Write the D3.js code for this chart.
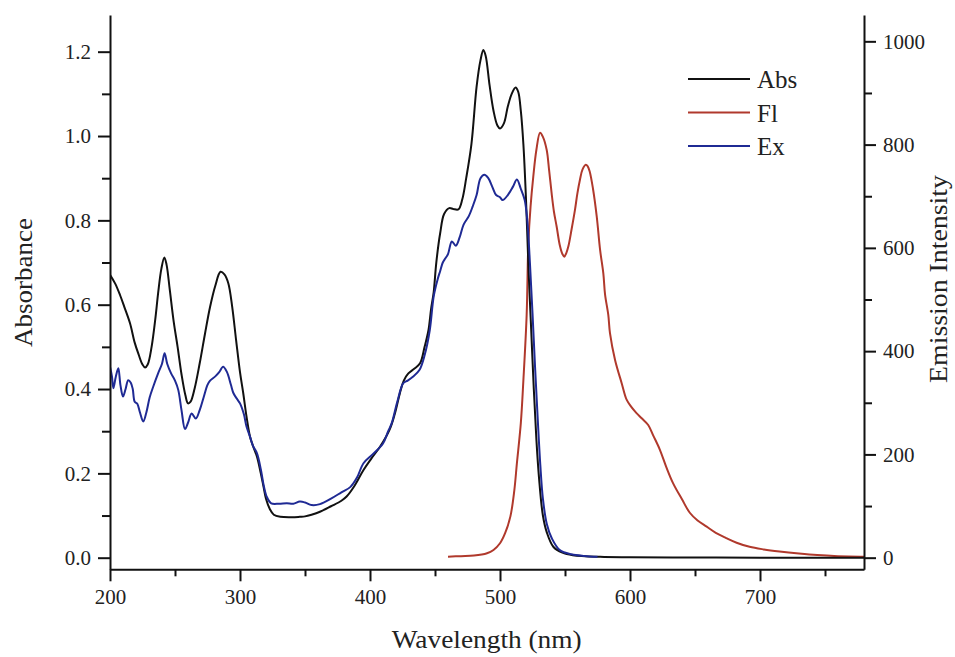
<!DOCTYPE html>
<html>
<head>
<meta charset="utf-8">
<script src="https://cdn.jsdelivr.net/npm/d3@7"></script>
<style>
  html, body { margin: 0; padding: 0; background: #fff; }
  svg { display: block; }
  text { font-family: "Liberation Serif", "Times New Roman", serif; fill: #222; }
</style>
</head>
<body>
<svg id="chart" width="955" height="657"></svg>
<script>
// Absorption spectrum (left axis)
const absWl = [200,204,207.7,211,215.4,219,222,225,227,229,232,235,237,239.5,241.8,243.5,246,249,252,255,258,260,262,265,269,273,277,281,285,288,291,294,297,300,302.5,305,307.7,310,313,316,318,320,323,326,331,340,346,350,355,361.5,370,378,382,388,395,401,407.7,415,419,423,426,429.5,434,438.5,442,445,447,449,451,454,457,461,464,468,471,474,478,482,485,487.2,489,492,495,498,500,503,506,509,512,514,516,518,520,522,524,526,528,530,533,536,541,548,556,577,600,650,700,780];
const absVal = [0.671,0.650,0.623,0.595,0.556,0.51,0.482,0.458,0.451,0.458,0.50,0.57,0.627,0.685,0.712,0.695,0.635,0.56,0.50,0.435,0.385,0.366,0.37,0.40,0.461,0.53,0.595,0.645,0.678,0.672,0.651,0.595,0.516,0.44,0.39,0.335,0.287,0.265,0.240,0.20,0.17,0.14,0.115,0.102,0.097,0.096,0.097,0.098,0.102,0.109,0.122,0.135,0.145,0.17,0.208,0.235,0.263,0.303,0.34,0.39,0.42,0.437,0.448,0.461,0.50,0.54,0.59,0.63,0.70,0.77,0.815,0.829,0.827,0.826,0.85,0.90,0.98,1.117,1.18,1.204,1.19,1.12,1.06,1.025,1.018,1.03,1.07,1.10,1.115,1.105,1.06,0.98,0.85,0.68,0.54,0.40,0.28,0.19,0.10,0.06,0.026,0.012,0.006,0.002,0.001,0.0005,0,0];

// Excitation spectrum (left axis)
const exWl = [200,201.5,202.6,204.5,206.4,208,210,212,214,216,217.5,219,221,223,225.6,228,230.5,233.3,237,240,242,244,247,250,252.5,255,257.7,260,262.8,266,269,272,275,277,281,284,287,290,293,295,298,300,303,305,307.7,310,313,316,318,320.5,324,330,336,341,346,350,355,361.5,370,378,385,390,395,402,410,414,416.7,421,425.6,429,433,438,442,446,449,452,454,456,458,460,463,466,469,472,476,479,482,485,488,491,494,497,500,502,506,510,513,516,519,521,523,525,527,529,531,533,536,540,546,555,565,575];
const exVal = [0.453,0.43,0.402,0.43,0.449,0.41,0.382,0.40,0.421,0.415,0.40,0.37,0.365,0.345,0.323,0.345,0.38,0.406,0.437,0.46,0.485,0.46,0.437,0.42,0.398,0.35,0.305,0.32,0.342,0.33,0.35,0.38,0.41,0.42,0.43,0.44,0.453,0.44,0.41,0.39,0.375,0.366,0.34,0.311,0.287,0.265,0.248,0.21,0.175,0.145,0.129,0.128,0.129,0.128,0.133,0.131,0.125,0.127,0.14,0.155,0.168,0.19,0.224,0.245,0.271,0.30,0.319,0.37,0.414,0.42,0.429,0.445,0.48,0.54,0.62,0.66,0.68,0.70,0.71,0.72,0.75,0.74,0.76,0.79,0.81,0.833,0.86,0.90,0.908,0.90,0.88,0.86,0.855,0.848,0.86,0.88,0.897,0.875,0.848,0.80,0.70,0.58,0.45,0.33,0.22,0.14,0.08,0.045,0.018,0.008,0.004,0.002];

// Fluorescence emission spectrum (right axis)
const flWl = [460,470,480,490,495,500,504,508,511,513,516,518,520.5,521.8,523.5,525.6,528,530.8,533,535.9,537.8,539.7,541.5,543.6,546,548,549.5,551,552.6,555,557.7,559.5,561.5,563.5,566,567.5,569,571.5,574.4,577,579.5,580.8,583.3,584.6,588.5,593.6,597.4,601,605,609,614,618,623,628,633,640,646,652,659,666,674,682,692,703,715,730,744,760,777,780];
const flVal = [2,3,4,8.5,15,28,48,80,130,183,260,344,470,609,680,738,790,823,815,790,750,706,670,641,605,588,583,590,603,635,674,705,732,752,761,758,748,715,661,596,550,510,470,435,383,338,306,292,280,270,257,236,209,175,145,113,87,72,60,48,38,29,21,16,12,8,5,3,2,2];

// Axis ticks
const xMajor = [200,300,400,500,600,700];
const xMinor = [250,350,450,550,650,750];
const yLeftMajor = [0.0,0.2,0.4,0.6,0.8,1.0,1.2];
const yLeftMinor = [0.1,0.3,0.5,0.7,0.9,1.1];
const yRightMajor = [0,200,400,600,800,1000];
const yRightMinor = [100,300,500,700,900];

const seriesNames = ["Abs","Fl","Ex"];
const seriesColors = ["#111111","#b0392c","#1f2a94"];

const svg = d3.select("#chart");
const L = 110, R = 864, T = 15, B = 569.3;

const x = d3.scaleLinear().domain([200, 780]).range([L, R]);
const yL = d3.scaleLinear().domain([-0.0275, 1.287]).range([B, T]);
const yR = d3.scaleLinear().domain([-22.5, 1051]).range([B, T]);

const plot = svg.append("g");
svg.append("defs").append("clipPath").attr("id","clip")
  .append("rect").attr("x", L).attr("y", T).attr("width", R - L).attr("height", B - T);

function drawLine(wl, val, yScale, color) {
  const pts = wl.map((w, i) => [w, val[i]]);
  const line = d3.line()
    .x(d => x(d[0])).y(d => yScale(d[1]))
    .curve(d3.curveCatmullRom.alpha(0.5));
  plot.append("path").datum(pts)
    .attr("clip-path","url(#clip)")
    .attr("fill","none").attr("stroke", color)
    .attr("stroke-width", 2).attr("stroke-linejoin","round")
    .attr("d", line);
}

drawLine(flWl, flVal, yR, seriesColors[1]);
drawLine(absWl, absVal, yL, seriesColors[0]);
drawLine(exWl, exVal, yL, seriesColors[2]);

// Axes
function styleAxis(g) {
  g.selectAll("path.domain").attr("stroke","#111").attr("stroke-width",2);
  g.selectAll(".tick line").attr("stroke","#111").attr("stroke-width",2);
  g.selectAll(".tick text").style("font-family","'Liberation Serif', serif").style("font-size","21px").attr("fill","#222");
}

const gx = svg.append("g").attr("transform", `translate(0,${B})`)
  .call(d3.axisBottom(x).tickValues(xMajor).tickSize(12).tickSizeOuter(0).tickPadding(8).tickFormat(d3.format("d")));
styleAxis(gx);
svg.append("g").attr("transform", `translate(0,${B})`)
  .call(d3.axisBottom(x).tickValues(xMinor).tickSize(7).tickSizeOuter(0).tickFormat(""))
  .call(g => { g.select("path.domain").remove(); styleAxis(g); });

const gyl = svg.append("g").attr("transform", `translate(${L},0)`)
  .call(d3.axisLeft(yL).tickValues(yLeftMajor).tickSize(12).tickSizeOuter(0).tickPadding(7).tickFormat(d3.format(".1f")));
styleAxis(gyl);
svg.append("g").attr("transform", `translate(${L},0)`)
  .call(d3.axisLeft(yL).tickValues(yLeftMinor).tickSize(8).tickSizeOuter(0).tickFormat(""))
  .call(g => { g.select("path.domain").remove(); styleAxis(g); });

const gyr = svg.append("g").attr("transform", `translate(${R},0)`)
  .call(d3.axisRight(yR).tickValues(yRightMajor).tickSize(12).tickSizeOuter(0).tickPadding(7).tickFormat(d3.format("d")));
styleAxis(gyr);
svg.append("g").attr("transform", `translate(${R},0)`)
  .call(d3.axisRight(yR).tickValues(yRightMinor).tickSize(8).tickSizeOuter(0).tickFormat(""))
  .call(g => { g.select("path.domain").remove(); styleAxis(g); });

// Axis titles
svg.append("text").attr("x", 486.7).attr("y", 648).attr("text-anchor","middle")
  .attr("textLength", 190).attr("lengthAdjust","spacingAndGlyphs")
  .style("font-size","25px").text("Wavelength (nm)");
svg.append("text").attr("transform","translate(32,282.5) rotate(-90)").attr("text-anchor","middle")
  .attr("textLength", 129).attr("lengthAdjust","spacingAndGlyphs")
  .style("font-size","25px").text("Absorbance");
svg.append("text").attr("transform","translate(947,279) rotate(-90)").attr("text-anchor","middle")
  .attr("textLength", 208).attr("lengthAdjust","spacingAndGlyphs")
  .style("font-size","25px").text("Emission Intensity");

// Legend
const legend = svg.append("g").attr("transform","translate(688,79)");
seriesNames.forEach((name, i) => {
  const gy = i * 33.5;
  legend.append("line").attr("x1",0).attr("x2",62).attr("y1",gy).attr("y2",gy)
    .attr("stroke", seriesColors[i]).attr("stroke-width",2);
  legend.append("text").attr("x",69).attr("y",gy + 9).style("font-size","25px").text(name);
});
</script>
</body>
</html>
